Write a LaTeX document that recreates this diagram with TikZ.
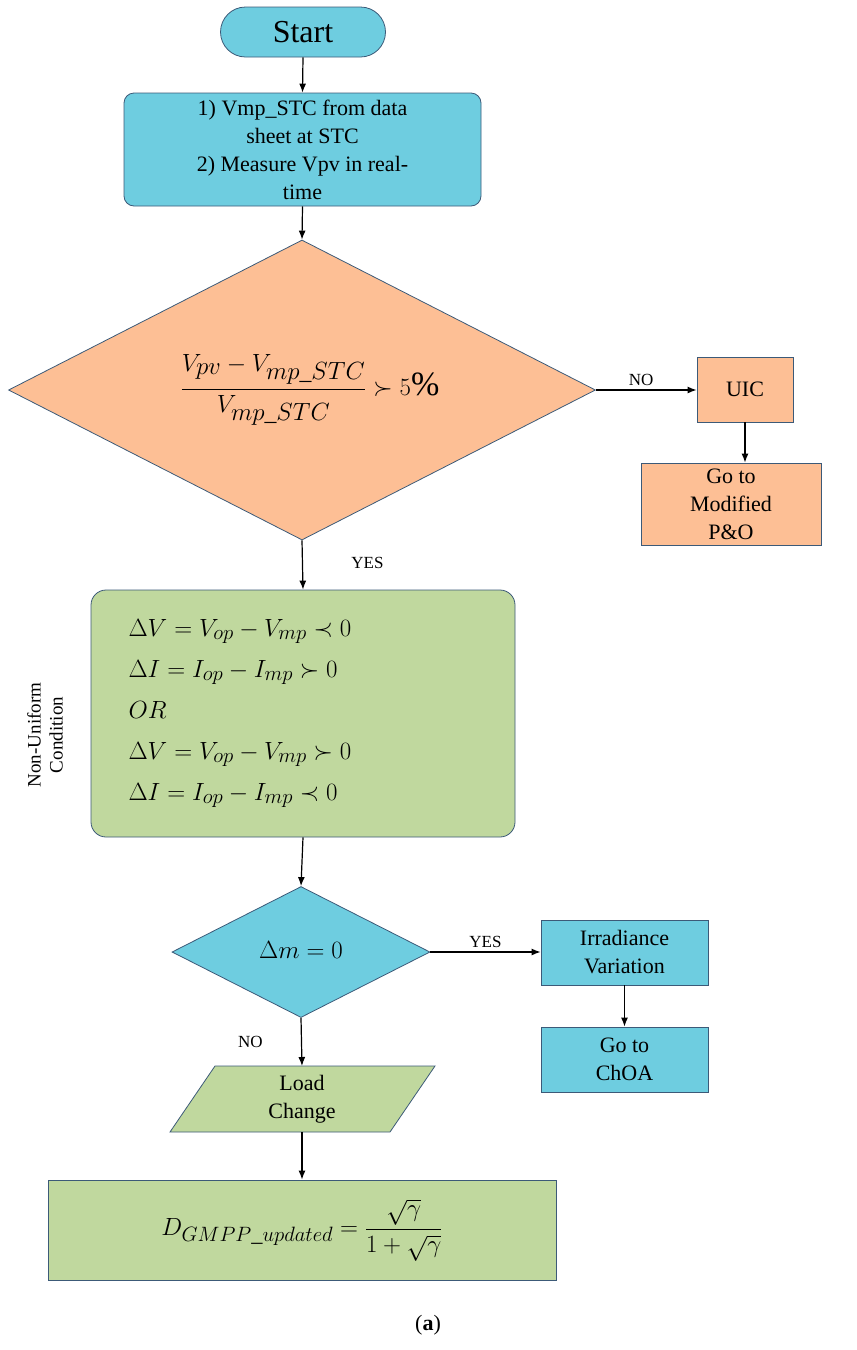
\documentclass[tikz,border=0pt]{standalone}
\usepackage{amsmath,amssymb}
\usepackage{fontspec}
\setmainfont{Liberation Serif}
\newfontfamily\tnr{Liberation Serif}
\usetikzlibrary{shapes.geometric,arrows.meta}
\definecolor{cy}{HTML}{6ECDE0}
\definecolor{og}{HTML}{FDBF95}
\definecolor{gr}{HTML}{C0D89E}
\definecolor{ed}{HTML}{3C5A78}
\begin{document}
\begin{tikzpicture}[x=1pt,y=-1pt,font=\tnr,
  box/.style={draw=ed,line width=0.8pt,align=center,inner sep=0pt},
  txt/.style={font=\tnr\fontsize{22}{28}\selectfont},
  arr/.style={-{Latex[length=9pt,width=7pt]},line width=1.2pt},
  lab/.style={font=\tnr\fontsize{17}{20}\selectfont}]
\useasboundingbox (0,0) rectangle (857,1350);
\node[box,fill=cy,rounded corners=25pt,minimum width=165pt,minimum height=50pt,font=\tnr\fontsize{32}{34}\selectfont] (start) at (303,32) {Start};
\node[box,fill=cy,rounded corners=10pt,minimum width=357pt,minimum height=113pt,txt] (b1) at (302.5,149.5) {1) Vmp\_STC from data\\sheet at STC\\2) Measure Vpv in real-\\time};
\node[box,fill=og,diamond,minimum width=587pt,minimum height=300pt,aspect=1.96,inner sep=0pt] (d1) at (302,390) {};
\node at (310,390) {\fontsize{34}{38}\selectfont$\dfrac{V_{pv}-V_{mp\_STC}}{V_{mp\_STC}}\succ 5\%$};
\node[box,fill=og,minimum width=96pt,minimum height=65pt,txt] (uic) at (745,389.5) {UIC};
\node[box,fill=og,minimum width=180pt,minimum height=82pt,txt] (po) at (731,504) {Go to\\Modified\\P\&O};
\node[box,fill=gr,rounded corners=15pt,minimum width=424pt,minimum height=247pt] (g) at (303,713.5) {};
\node[anchor=west,align=left,font=\fontsize{30}{41}\selectfont] at (125,713.5) {$\Delta V=V_{op}-V_{mp}\prec 0$\\$\Delta I=I_{op}-I_{mp}\succ 0$\\$OR$\\$\Delta V=V_{op}-V_{mp}\succ 0$\\$\Delta I=I_{op}-I_{mp}\prec 0$};
\node[rotate=90,align=center,font=\tnr\fontsize{19}{22}\selectfont] (nu) at (45,735) {Non-Uniform\\Condition};
\node[box,fill=cy,diamond,minimum width=258pt,minimum height=131pt,aspect=1.97] (d2) at (301,952) {};
\node at (301,950) {\fontsize{32}{36}\selectfont$\Delta m=0$};
\node[box,fill=cy,minimum width=167pt,minimum height=65pt,txt] (irr) at (624.5,952.5) {Irradiance\\Variation};
\node[box,fill=cy,minimum width=167pt,minimum height=65pt,txt] (choa) at (624.5,1059.5) {Go to\\ChOA};
\path[box,fill=gr] (215,1066) -- (435,1066) -- (390,1132) -- (170,1132) -- cycle;
\node[align=center,txt] (lc) at (302,1099) {Load\\Change};
\coordinate (lct) at (302,1066); \coordinate (lcb) at (302,1132);
\node[box,fill=gr,minimum width=508pt,minimum height=100pt] (fin) at (302,1230) {\fontsize{32}{36}\selectfont$D_{GMPP\_updated}=\dfrac{\sqrt{\gamma}}{1+\sqrt{\gamma}}$};
\node[font=\tnr\fontsize{22}{24}\selectfont] (cap) at (428,1325) {(\textbf{a})};
\draw[arr] (start.south) -- (b1.north);
\draw[arr] (b1.south) -- (d1.north);
\draw[arr] (d1.east) -- node[lab,above,pos=0.45]{NO} (d1.east -| uic.west);
\draw[arr] (uic.south) -- (uic.south |- po.north);
\draw[arr] (d1.south) -- node[lab,right,pos=0.45,xshift=45pt]{YES} (g.north);
\draw[arr] (g.south) -- (d2.north);
\draw[arr] (d2.east) -- node[lab,above]{YES} (d2.east -| irr.west);
\draw[arr] (irr.south) -- (choa.north);
\draw[arr] (d2.south) -- node[lab,left,xshift=-35pt]{NO} (lct);
\draw[arr] (lcb) -- (fin.north);
\end{tikzpicture}
\end{document}
